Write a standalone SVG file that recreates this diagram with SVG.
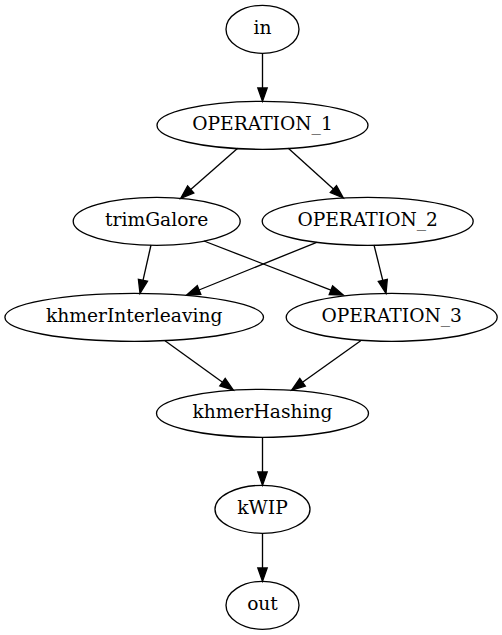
<svg xmlns="http://www.w3.org/2000/svg" width="502" height="635" viewBox="0 0 502 635">
<style>
.node ellipse{fill:none;stroke:#000;stroke-width:1.33}
.node text{font-family:"DejaVu Serif","Liberation Serif",serif;font-size:18.67px;text-anchor:middle;fill:#000}
.edges line{stroke:#000;stroke-width:1.33}
.edges polygon{fill:#000;stroke:#000;stroke-width:1.33}
</style>
<rect width="502" height="635" fill="#fff"/>
<g class="edges">
<line x1="262.5" y1="53.3" x2="262.5" y2="88"/>
<polygon points="262.5,101.3 257.8,88 267.2,88"/>
<line x1="237.7" y1="148.3" x2="190.7" y2="189.5"/>
<polygon points="180.7,198.3 193.8,193 187.6,186"/>
<line x1="288.3" y1="148.3" x2="333.4" y2="189.1"/>
<polygon points="343.3,198 330.3,192.5 336.5,185.6"/>
<line x1="151" y1="245" x2="143" y2="280.3"/>
<polygon points="140,293.3 147.5,281.3 138.4,279.3"/>
<line x1="316.7" y1="242.3" x2="199" y2="290"/>
<polygon points="186.7,295 200.8,294.3 197.3,285.7"/>
<line x1="204" y1="241" x2="330.9" y2="290.2"/>
<polygon points="343.3,295 329.2,294.5 332.6,285.8"/>
<line x1="374" y1="245" x2="382.8" y2="280.4"/>
<polygon points="386,293.3 378.3,281.5 387.3,279.3"/>
<line x1="165" y1="340.7" x2="222.5" y2="382.2"/>
<polygon points="233.3,390 219.8,386 225.2,378.4"/>
<line x1="360.7" y1="340.7" x2="302.5" y2="382.2"/>
<polygon points="291.7,390 305.3,386.1 299.8,378.5"/>
<line x1="262.5" y1="437.3" x2="262.5" y2="472"/>
<polygon points="262.5,485.3 257.8,472 267.2,472"/>
<line x1="262.5" y1="533.3" x2="262.5" y2="568"/>
<polygon points="262.5,581.3 257.8,568 267.2,568"/>
</g>
<g id="in" class="node"><ellipse cx="262.5" cy="29.3" rx="36.5" ry="24"/><text x="262.5" y="34.3">in</text></g>
<g id="OPERATION_1" class="node"><ellipse cx="262.5" cy="125.3" rx="105.5" ry="24"/><text x="262.5" y="130.3">OPERATION_1</text></g>
<g id="trimGalore" class="node"><ellipse cx="156.7" cy="221.3" rx="83.5" ry="24"/><text x="156.7" y="226.3">trimGalore</text></g>
<g id="OPERATION_2" class="node"><ellipse cx="367.7" cy="221.3" rx="105.5" ry="24"/><text x="367.7" y="226.3">OPERATION_2</text></g>
<g id="khmerInterleaving" class="node"><ellipse cx="134.2" cy="317.3" rx="129.3" ry="24"/><text x="134.2" y="322.3">khmerInterleaving</text></g>
<g id="OPERATION_3" class="node"><ellipse cx="391.7" cy="317.3" rx="105.5" ry="24"/><text x="391.7" y="322.3">OPERATION_3</text></g>
<g id="khmerHashing" class="node"><ellipse cx="262.5" cy="413.3" rx="106" ry="24"/><text x="262.5" y="418.3">khmerHashing</text></g>
<g id="kWIP" class="node"><ellipse cx="262.5" cy="509.3" rx="47.5" ry="24"/><text x="262.5" y="514.3">kWIP</text></g>
<g id="out" class="node"><ellipse cx="262.5" cy="605.3" rx="36.5" ry="24"/><text x="262.5" y="610.3">out</text></g>
</svg>
